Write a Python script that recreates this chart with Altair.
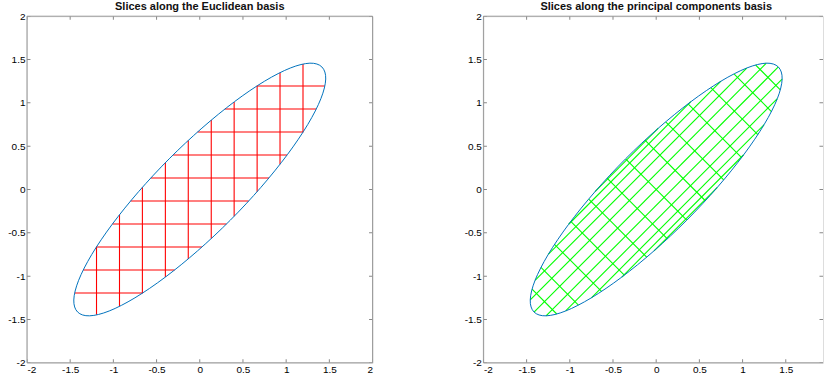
import altair as alt
import pandas as pd

# ---- ellipse outline ----
ell_x = [1.414, 1.275, 1.048, 0.750, 0.401, 0.025, -0.354, -0.708, -1.013, -1.250, -1.402, -1.458,
         -1.414, -1.275, -1.048, -0.750, -0.401, -0.025, 0.354, 0.708, 1.013, 1.250, 1.402, 1.458]
ell_y = [1.414, 1.458, 1.402, 1.250, 1.013, 0.708, 0.354, -0.025, -0.401, -0.750, -1.048, -1.275,
         -1.414, -1.458, -1.402, -1.250, -1.013, -0.708, -0.354, 0.025, 0.401, 0.750, 1.048, 1.275]

# ---- Euclidean slices ----
eu_pos = [-1.195, -0.929, -0.664, -0.398, -0.133, 0.133, 0.398, 0.664, 0.929, 1.195]
eu_lo = [-1.447, -1.348, -1.197, -1.011, -0.801, -0.566, -0.309, -0.025, 0.291, 0.662]
eu_hi = [-0.662, -0.291, 0.025, 0.309, 0.566, 0.801, 1.011, 1.197, 1.348, 1.447]

# ---- principal-component slices: segment end points ----
# across the ellipse (minor-axis direction)
pc_a_x1 = [-1.437, -1.334, -1.177, -0.989, -0.781, -0.569, -0.354, -0.130, 0.110, 0.369, 0.633, 0.900, 1.151]
pc_a_y1 = [-1.151, -0.900, -0.633, -0.369, -0.110, 0.130, 0.354, 0.569, 0.781, 0.989, 1.177, 1.334, 1.437]
pc_a_x2 = [-1.151, -0.900, -0.633, -0.369, -0.110, 0.130, 0.354, 0.569, 0.781, 0.989, 1.177, 1.334, 1.437]
pc_a_y2 = [-1.437, -1.334, -1.177, -0.989, -0.781, -0.569, -0.354, -0.130, 0.110, 0.369, 0.633, 0.900, 1.151]
# along the ellipse (major-axis direction), denser towards the rim
pc_b_x1 = [0.708, 1.013, 1.250, 1.402, 1.458, 1.414, 1.275, 1.048, 0.750, 0.401, 0.025]
pc_b_y1 = [0.025, 0.401, 0.750, 1.048, 1.275, 1.414, 1.458, 1.402, 1.250, 1.013, 0.708]
pc_b_x2 = [-0.025, -0.401, -0.750, -1.048, -1.275, -1.414, -1.458, -1.402, -1.250, -1.013, -0.708]
pc_b_y2 = [-0.708, -1.013, -1.250, -1.402, -1.458, -1.414, -1.275, -1.048, -0.750, -0.401, -0.025]

ticks = [-2, -1.5, -1, -0.5, 0, 0.5, 1, 1.5, 2]
right_ticks = [-2, -1.5, -1, -0.5, 0, 0.5, 1, 1.5]

ell = pd.DataFrame({"x": ell_x, "y": ell_y, "i": list(range(len(ell_x)))})
eu_v = pd.DataFrame({"x": eu_pos, "x2": eu_pos, "y": eu_lo, "y2": eu_hi})
eu_h = pd.DataFrame({"x": eu_lo, "x2": eu_hi, "y": eu_pos, "y2": eu_pos})
pc_a = pd.DataFrame({"x": pc_a_x1, "y": pc_a_y1, "x2": pc_a_x2, "y2": pc_a_y2})
pc_b = pd.DataFrame({"x": pc_b_x1, "y": pc_b_y1, "x2": pc_b_x2, "y2": pc_b_y2})

LABEL_EXPR = "datum.value < 0 ? '-' + format(-datum.value, '~g') : format(datum.value, '~g')"
TICK_COLOR = "#555555"
FRAME_COLOR = "#9a9a9a"


def make_panel(title, seg_frames, color, width, xdom, xticks, frame_x, title_dx):
    xs = alt.Scale(domain=xdom, nice=False, zero=False)
    ys = alt.Scale(domain=[-2, 2], nice=False, zero=False)
    xa = alt.Axis(values=xticks, labelExpr=LABEL_EXPR, grid=False, ticks=False, domain=False)
    ya = alt.Axis(values=ticks, labelExpr=LABEL_EXPR, grid=False, ticks=False, domain=False)

    def X(f):
        return alt.X(f, type="quantitative", scale=xs, axis=xa, title=None)

    def Y(f):
        return alt.Y(f, type="quantitative", scale=ys, axis=ya, title=None)

    layers = []
    for df in seg_frames:
        layers.append(
            alt.Chart(df).mark_rule(color=color, strokeWidth=1.1, clip=True).encode(
                x=X("x"), y=Y("y"), x2="x2", y2="y2"
            )
        )
    layers.append(
        alt.Chart(ell).mark_line(color="#0072BD", strokeWidth=1, interpolate="cardinal-closed", clip=True)
        .encode(x=X("x"), y=Y("y"), order="i:Q")
    )
    tdf = pd.DataFrame({"t": xticks, "lo": [-2] * len(xticks), "hi": [2] * len(xticks)})
    ydf = pd.DataFrame({"t": ticks, "lo": [xdom[0]] * len(ticks), "hi": [xdom[1]] * len(ticks)})
    for edge in ["lo", "hi"]:
        layers.append(
            alt.Chart(tdf).mark_tick(orient="vertical", size=7, thickness=1, color=TICK_COLOR, clip=True)
            .encode(x=X("t"), y=Y(edge))
        )
        layers.append(
            alt.Chart(ydf).mark_tick(orient="horizontal", size=7, thickness=1, color=TICK_COLOR, clip=True)
            .encode(y=Y("t"), x=X(edge))
        )
    # frame: horizontal edges and vertical edges that fall inside the canvas
    hframe = pd.DataFrame({"e": [-2, 2]})
    vframe = pd.DataFrame({"e": frame_x})
    layers.append(alt.Chart(hframe).mark_rule(color=FRAME_COLOR, strokeWidth=1).encode(y=Y("e")))
    layers.append(alt.Chart(vframe).mark_rule(color=FRAME_COLOR, strokeWidth=1).encode(x=X("e")))
    return alt.layer(*layers).properties(
        width=width,
        height=347,
        title=alt.TitleParams(title, font="Arial", fontSize=11, fontWeight="bold", color="#111111",
                              offset=-1, anchor="middle", dx=title_dx),
    )


left = make_panel("Slices along the Euclidean basis", [eu_v, eu_h], "#FF0000", 346, [-2, 2], ticks,
                  [-2, 2], 0)
right = make_panel("Slices along the principal components basis", [pc_a, pc_b], "#00FF00", 340,
                   [-2, 1.931], right_ticks, [-2], 3)

chart = (
    alt.hconcat(left, right, spacing=111, bounds="flush")
    .properties(padding={"left": 7, "top": 0, "right": 0, "bottom": 0})
    .configure_view(stroke=None)
    .configure_axis(domain=False, ticks=False, grid=False, labelFont="Arial", labelFontSize=9,
                    labelFontWeight="bold", labelColor="#333333", labelPadding=4)
    .configure(background="white")
)

chart.save("out.html", embed_options={"renderer": "svg", "actions": False})
